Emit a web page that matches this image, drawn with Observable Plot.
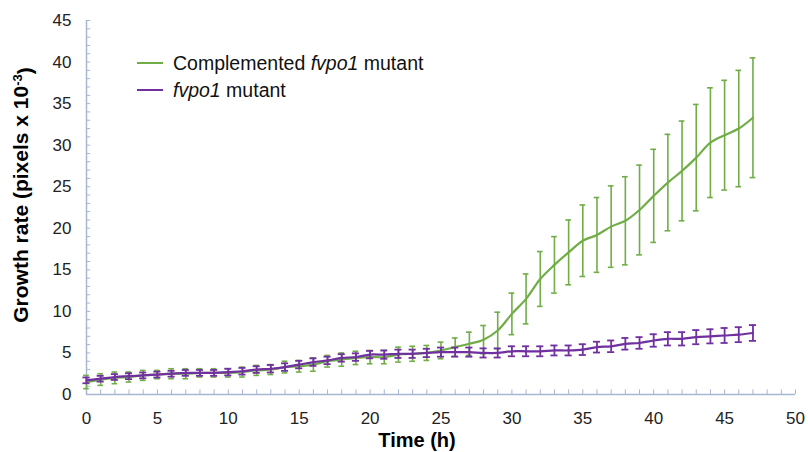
<!DOCTYPE html>
<html>
<head>
<meta charset="utf-8">
<script src="https://cdn.jsdelivr.net/npm/d3@7"></script>
<script src="https://cdn.jsdelivr.net/npm/@observablehq/plot@0.6"></script>
<style>
  html, body { margin: 0; padding: 0; background: #fff; }
</style>
</head>
<body>
<div id="chart"></div>
<script>
// ---- data ----
const hours = d3.range(0, 48);
const compMean = [1.5,1.8,2.0,2.1,2.3,2.4,2.5,2.5,2.6,2.6,2.6,2.7,2.9,3.0,3.3,3.4,3.6,4.0,4.2,4.4,4.5,4.5,4.8,4.9,5.0,5.3,5.7,6.1,6.6,7.7,9.7,11.5,13.9,15.6,17.1,18.5,19.2,20.2,20.9,22.2,23.9,25.5,26.9,28.5,30.3,31.2,32.0,33.3];
const compSD   = [0.8,0.7,0.7,0.6,0.6,0.5,0.6,0.6,0.5,0.5,0.5,0.6,0.6,0.6,0.7,0.7,0.8,0.7,0.8,0.8,0.8,0.8,0.9,0.9,0.9,1.0,1.1,1.4,1.7,2.2,2.5,3.0,3.3,3.4,3.9,4.3,4.5,4.9,5.3,5.4,5.6,5.8,6.0,6.4,6.6,6.6,7.0,7.2];
const mutMean  = [1.7,1.9,2.1,2.2,2.3,2.4,2.5,2.6,2.6,2.6,2.7,2.8,3.0,3.1,3.3,3.6,3.9,4.1,4.4,4.5,4.8,4.8,4.9,4.9,5.0,5.1,5.1,5.1,5.0,5.0,5.2,5.2,5.2,5.3,5.3,5.4,5.7,5.8,6.1,6.2,6.5,6.7,6.7,6.9,7.0,7.1,7.2,7.4];
const mutSD    = [0.35,0.35,0.35,0.35,0.35,0.35,0.35,0.35,0.35,0.35,0.4,0.4,0.4,0.45,0.45,0.45,0.45,0.45,0.45,0.45,0.45,0.5,0.5,0.5,0.5,0.55,0.55,0.55,0.55,0.55,0.6,0.6,0.6,0.6,0.6,0.65,0.65,0.7,0.7,0.7,0.75,0.8,0.8,0.85,0.85,0.9,0.9,0.95];
const xTicks = d3.range(0, 51, 5);
const yTicks = d3.range(0, 46, 5);
const xMinor = d3.range(0, 51, 1);
const yMinor = d3.range(0, 46, 1);

const green = "#70ad47";
const purple = "#7030a0";
const axisColor = "#a7b6d3";

const comp = hours.map((t, i) => ({t, m: compMean[i], sd: compSD[i]}));
const mut  = hours.map((t, i) => ({t, m: mutMean[i], sd: mutSD[i]}));

function seriesMarks(data, color, ebw, cap) {
  return [
    Plot.ruleX(data, {x: "t", y1: d => d.m - d.sd, y2: d => d.m + d.sd, stroke: color, strokeWidth: ebw}),
    Plot.ruleY(data, {y: d => d.m + d.sd, x1: d => d.t - cap, x2: d => d.t + cap, stroke: color, strokeWidth: ebw}),
    Plot.ruleY(data, {y: d => d.m - d.sd, x1: d => d.t - cap, x2: d => d.t + cap, stroke: color, strokeWidth: ebw}),
    Plot.line(data, {x: "t", y: "m", stroke: color, strokeWidth: 2.2, curve: "catmull-rom"})
  ];
}

const svg = Plot.plot({
  width: 808,
  height: 452,
  marginLeft: 86,
  marginRight: 13,
  marginTop: 20,
  marginBottom: 58,
  style: {fontFamily: "'Liberation Sans', Arial, sans-serif", background: "#fff", color: "#222"},
  x: {domain: [0, 50]},
  y: {domain: [0, 45]},
  marks: [
    Plot.ruleX(xMinor, {x: d => d, y1: 0, y2: 0.55, stroke: axisColor}),
    Plot.ruleY(yMinor, {y: d => d, x1: 0, x2: 0.3, stroke: axisColor}),
    Plot.ruleY([0], {stroke: axisColor, strokeWidth: 1.5}),
    Plot.ruleX([0], {stroke: axisColor, strokeWidth: 1.5}),
    Plot.axisX({ticks: xTicks, tickSize: 0, tickPadding: 17, fontSize: 17, label: null}),
    Plot.axisY({ticks: yTicks, tickSize: 0, tickPadding: 15, fontSize: 17, label: null}),
    ...seriesMarks(comp, green, 1.6, 0.2),
    ...seriesMarks(mut, purple, 1.8, 0.25)
  ]
});

const s = d3.select(svg);
// axis titles
s.append("text")
  .attr("x", 417).attr("y", 447)
  .attr("text-anchor", "middle")
  .style("font-weight", "bold").style("font-size", "20px").attr("fill", "#000")
  .text("Time (h)");
const yt = s.append("text")
  .attr("transform", "translate(28,195) rotate(-90)")
  .attr("text-anchor", "middle")
  .style("font-weight", "bold").style("font-size", "21px").attr("fill", "#000");
yt.append("tspan").text("Growth rate (pixels x 10");
yt.append("tspan").attr("dy", "-0.5em").style("font-size", "13px").text("-3");
yt.append("tspan").attr("dy", "0.5em").text(")");

// legend
const leg = [{c: green, y: 63, parts: [["Complemented ", false], ["fvpo1", true], [" mutant", false]]},
             {c: purple, y: 90, parts: [["fvpo1", true], [" mutant", false]]}];
leg.forEach(l => {
  s.append("line").attr("x1", 137).attr("x2", 163).attr("y1", l.y).attr("y2", l.y)
    .attr("stroke", l.c).attr("stroke-width", 2);
  const t = s.append("text").attr("x", 173).attr("y", l.y + 7)
    .attr("text-anchor", "start")
    .style("font-size", "19.5px").attr("fill", "#111");
  l.parts.forEach(([txt, it]) => t.append("tspan").style("font-style", it ? "italic" : "normal").text(txt));
});

document.getElementById("chart").appendChild(svg);
</script>
</body>
</html>
